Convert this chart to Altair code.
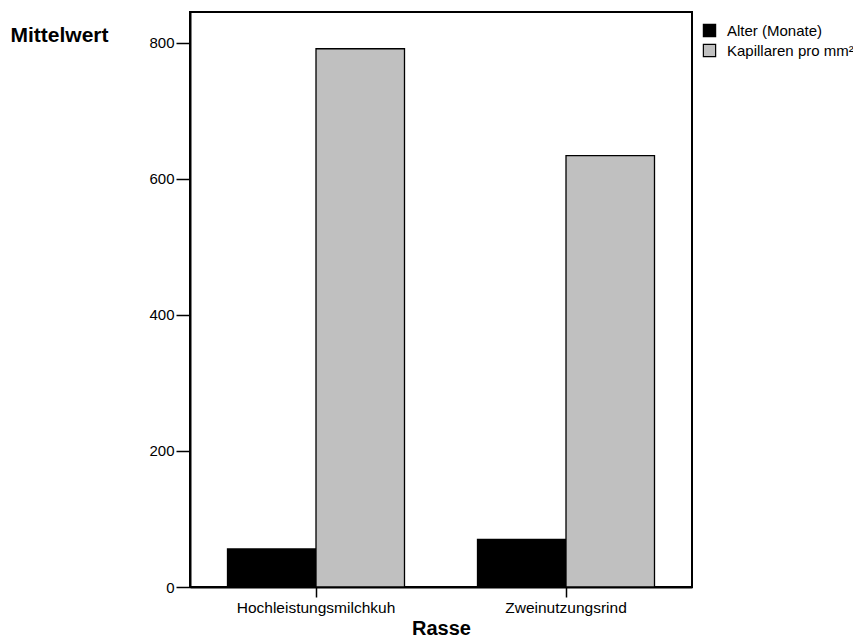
import altair as alt
import pandas as pd

rassen = ["Hochleistungsmilchkuh", "Zweinutzungsrind"]
alter_monate = [56, 70]
kapillaren = [791, 634]
serien = ["Alter (Monate)", "Kapillaren pro mm²"]
farben = ["#000000", "#c0c0c0"]

rows = []
for i, r in enumerate(rassen):
    rows.append({"Rasse": r, "Serie": serien[0], "Wert": alter_monate[i]})
    rows.append({"Rasse": r, "Serie": serien[1], "Wert": kapillaren[i]})
df = pd.DataFrame(rows)

FONT = "Liberation Sans"

chart = alt.Chart(df).mark_bar(stroke="black", strokeWidth=1.3).encode(
    x=alt.X("Rasse:N", sort=rassen,
            scale=alt.Scale(paddingInner=0.292, paddingOuter=0.15),
            axis=alt.Axis(title="Rasse", labelAngle=0, tickSize=10, tickColor="black",
                          tickWidth=1.5, domainColor="black", domainWidth=2,
                          labelFontSize=15.5, labelColor="black",
                          labelPadding=3, titleFontSize=20, titleFontWeight="bold",
                          titleColor="black", titlePadding=3, labelFont=FONT, titleFont=FONT)),
    xOffset=alt.XOffset("Serie:N", sort=serien),
    y=alt.Y("Wert:Q", scale=alt.Scale(domain=[0, 845], nice=False),
            axis=alt.Axis(values=[0, 200, 400, 600, 800], grid=False, tickSize=14,
                          tickWidth=1.5, tickColor="black", domainColor="black",
                          domainWidth=2, labelFontSize=15,
                          labelColor="black", labelPadding=2, labelFont=FONT,
                          title="Mittelwert", titleAngle=0, titleAlign="left",
                          titleBaseline="alphabetic", titleX=-180, titleY=29,
                          titleFontSize=21, titleFontWeight="bold", titleColor="black",
                          titleFont=FONT)),
    fill=alt.Fill("Serie:N", sort=serien,
                  scale=alt.Scale(domain=serien, range=farben),
                  legend=alt.Legend(title=None, orient="none", legendX=512, legendY=11,
                                    symbolType="square", symbolSize=150,
                                    symbolStrokeColor="black", symbolStrokeWidth=1.2,
                                    labelFontSize=15, labelColor="black", labelFont=FONT,
                                    rowPadding=1, labelOffset=10)),
).properties(
    width=502, height=575,
    autosize=alt.AutoSizeParams(type="none"),
    padding={"left": 182, "top": 4, "right": 161, "bottom": 52},
).configure_view(stroke="black", strokeWidth=2)

chart.save("out.html", embed_options={"renderer": "svg", "actions": False})
